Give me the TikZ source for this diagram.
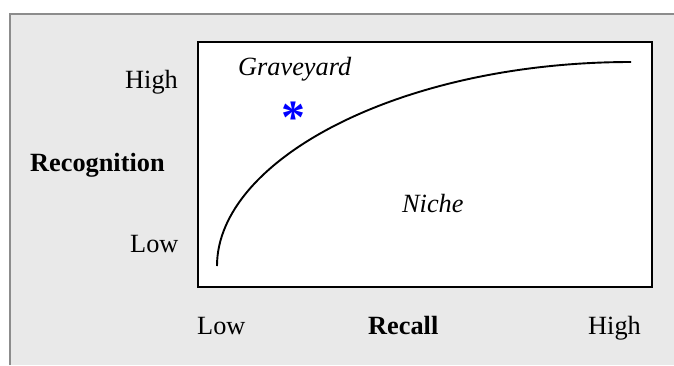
\documentclass[tikz,border=0pt]{standalone}
\usepackage{fontspec}
\setmainfont{Liberation Serif}
\definecolor{panelgrey}{HTML}{E9E9E9}
\definecolor{framegrey}{HTML}{8C8C8C}
\definecolor{starblue}{HTML}{0000FF}
\begin{document}
\begin{tikzpicture}[x=1bp,y=-1bp,
  lbl/.style={inner sep=0pt,anchor=base west,font=\fontsize{26.4}{30}\selectfont},
  lblb/.style={lbl,font=\fontsize{26.4}{30}\selectfont\bfseries},
  lbli/.style={lbl,font=\fontsize{26.4}{30}\selectfont\itshape}]
\useasboundingbox (0,0) rectangle (674,365);
\fill[white] (0,0) rectangle (674,365);
\fill[panelgrey] (10,14) rectangle (674,365);
\draw[framegrey,line width=2.2bp] (10,365) -- (10,14) -- (674,14);
\node[draw=black,fill=white,line width=1.5bp,minimum width=454bp,minimum height=245bp,inner sep=0pt,anchor=north west] (plot) at (197,41) {};
\coordinate (cstart) at (217,266);
\coordinate (cend) at (631,62);
\draw[line width=1.9bp] (cstart) .. controls (217,160) and (400,62) .. (cend);
\node[lbl] (yhigh) at (125,88) {High};
\node[lblb] (ylab) at (30,171) {Recognition};
\node[lbl] (ylow) at (130,252) {Low};
\node[lbl] (xlow) at (197,334) {Low};
\node[lblb] (xlab) at (368,334) {Recall};
\node[lbl] (xhigh) at (588,334) {High};
\node[lbli] (grave) at (238,75) {Graveyard};
\node[lbli] (niche) at (402,212) {Niche};
\node[inner sep=0pt,text=starblue,font=\fontsize{48}{52}\selectfont\bfseries] (star) at (293,118) {*};
\end{tikzpicture}
\end{document}
